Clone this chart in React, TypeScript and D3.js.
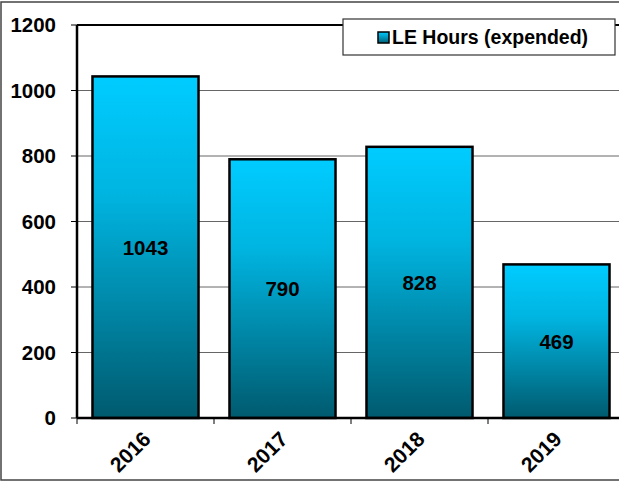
import React from "react";
import * as d3 from "d3";

const categories = ["2016", "2017", "2018", "2019"];
const values = [1043, 790, 828, 469];
const yTicks = [0, 200, 400, 600, 800, 1000, 1200];
const seriesName = "LE Hours (expended)";

export default function App() {
  const W = 619, H = 483;
  const left = 77, top = 25, bottom = 418, right = 625;
  const x = d3.scaleBand<string>().domain(categories).range([left, right]).paddingInner(0.226).paddingOuter(0.113);
  const y = d3.scaleLinear().domain([0, 1200]).range([bottom, top]);
  const font = "'Liberation Sans', Arial, sans-serif";
  const step = x.step();
  return (
    <svg width={W} height={H} style={{ position: "absolute", left: 0, top: 0, background: "#fff" }} fontFamily={font}>
      <defs>
        <linearGradient id="barGrad" x1="0" y1="0" x2="0" y2="1">
          <stop offset="0" stopColor="#00CCFF" />
          <stop offset="0.35" stopColor="#00B4E0" />
          <stop offset="1" stopColor="#005A6E" />
        </linearGradient>
        <linearGradient id="legGrad" x1="0" y1="0" x2="0" y2="1">
          <stop offset="0" stopColor="#00CCFF" />
          <stop offset="1" stopColor="#006078" />
        </linearGradient>
      </defs>
      <rect x={1} y={2} width={W + 5} height={478} fill="none" stroke="#444" strokeWidth={1.5} />
      {yTicks.map((t) => (
        <g key={t}>
          {t > 0 && <line x1={left} x2={W} y1={y(t)} y2={y(t)} stroke={t === 1200 ? "#000" : "#666"} strokeWidth={t === 1200 ? 2 : 1} />}
          <line x1={left - 6} x2={left} y1={y(t)} y2={y(t)} stroke="#000" strokeWidth={1} />
          <text x={56} y={y(t)} dy="0.36em" textAnchor="end" fontSize={20.5} fontWeight="bold">{t}</text>
        </g>
      ))}
      {categories.map((c, i) => (
        <g key={c}>
          <rect x={x(c)} y={y(values[i])} width={x.bandwidth()} height={bottom - y(values[i])} fill="url(#barGrad)" stroke="#000" strokeWidth={2.5} />
          <text x={x(c)! + x.bandwidth() / 2} y={(y(values[i]) + bottom) / 2} dy="0.36em" textAnchor="middle" fontSize={20.5} fontWeight="bold">{values[i]}</text>
          <line x1={left + step * i} x2={left + step * i} y1={bottom} y2={bottom + 6} stroke="#000" strokeWidth={1} />
          <text transform={`translate(${x(c)! + x.bandwidth() / 2 - 4},${bottom + 12}) rotate(-45)`} textAnchor="end" dy="0.7em" fontSize={21} fontWeight="bold">{c}</text>
        </g>
      ))}
      <line x1={left} x2={left} y1={top} y2={bottom} stroke="#000" strokeWidth={2.5} />
      <line x1={left} x2={W} y1={bottom} y2={bottom} stroke="#000" strokeWidth={2.5} />
      <rect x={343} y={19} width={272} height={36} fill="#fff" stroke="#333" strokeWidth={1.2} />
      <rect x={378} y={32} width={11} height={11} fill="url(#legGrad)" stroke="#000" strokeWidth={1.5} />
      <text x={392} y={44} fontSize={19.5} fontWeight="bold">{seriesName}</text>
    </svg>
  );
}
